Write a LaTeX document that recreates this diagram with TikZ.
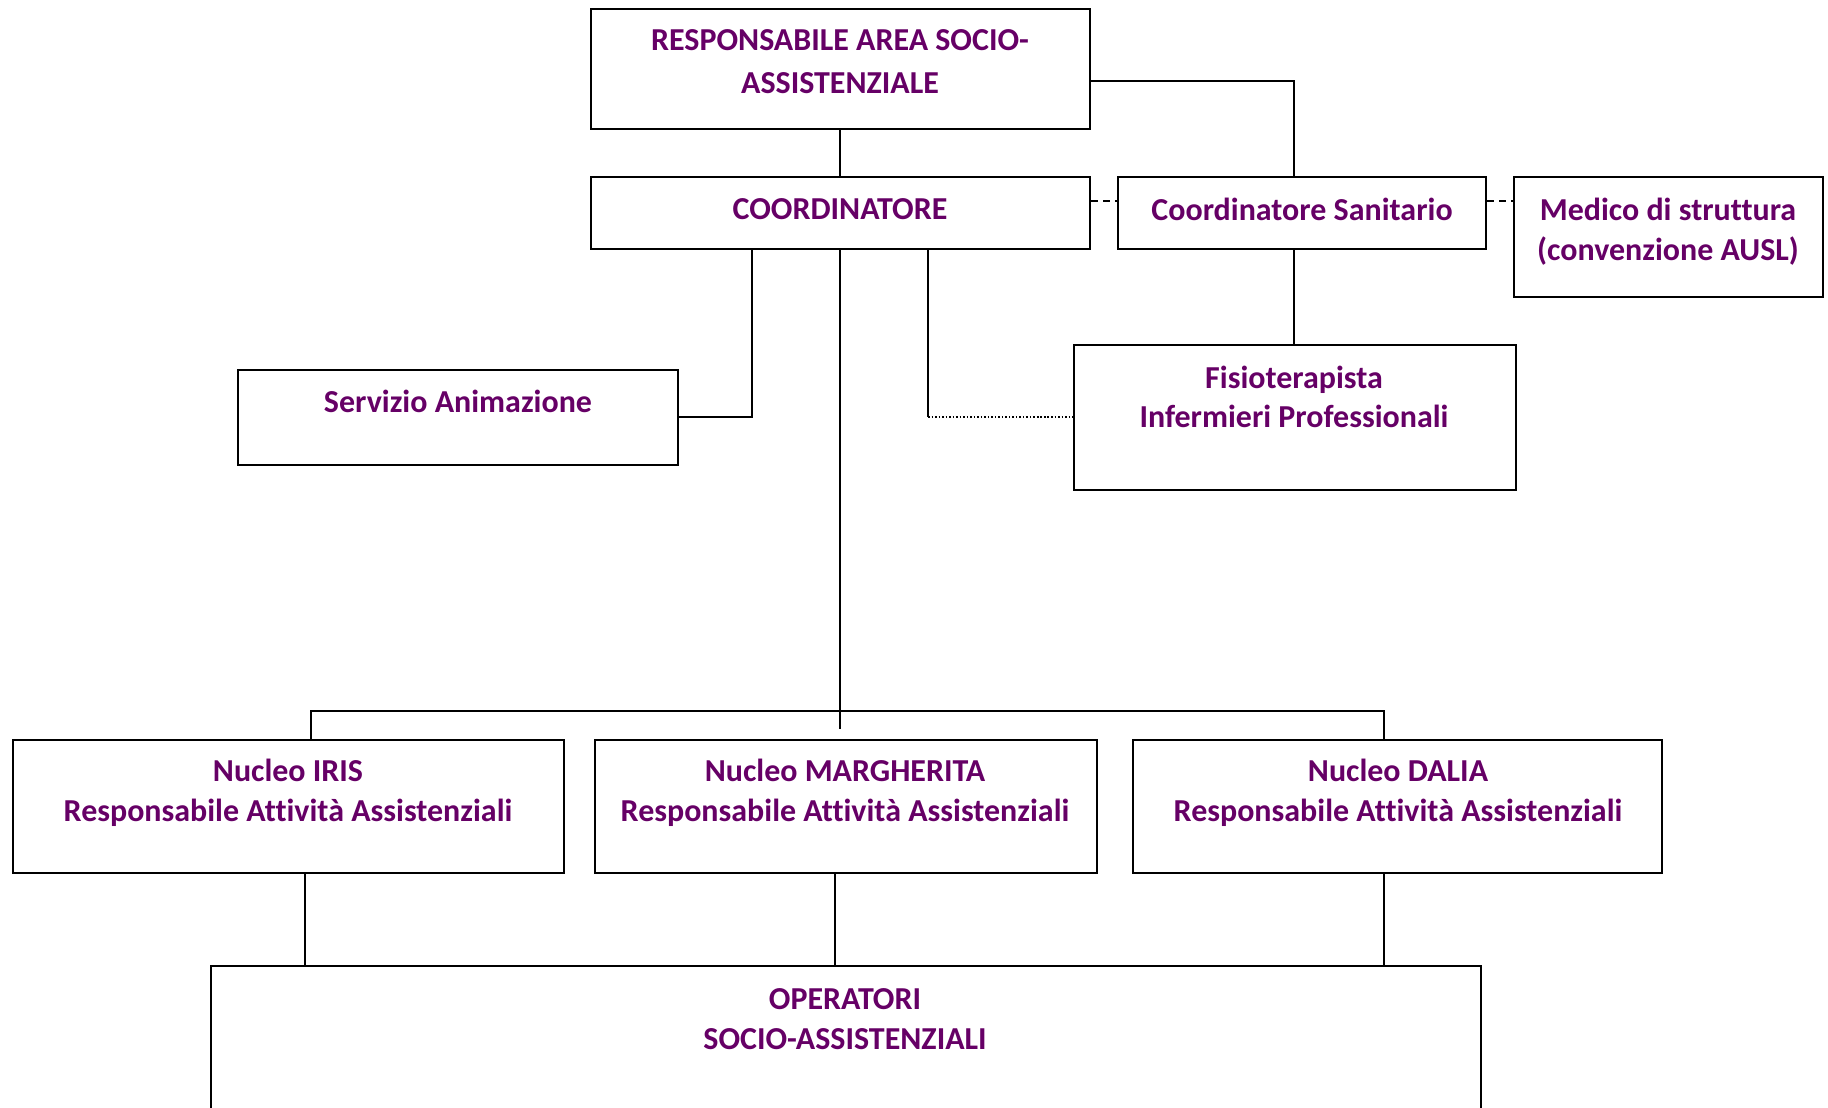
\documentclass[tikz,border=0pt]{standalone}
\usepackage{fontspec}
\setmainfont[Ligatures=NoCommon]{Carlito}
\usetikzlibrary{fit}
\definecolor{orgpurple}{RGB}{102,0,102}
\begin{document}
\begin{tikzpicture}[x=0.02cm,y=-0.02cm,
  box/.style={draw=black, line width=1.3pt, inner sep=0pt, rectangle},
  txt/.style={text=orgpurple, font=\fontsize{18.2}{22.6}\selectfont\bfseries, align=center, inner sep=0pt},
  txtwide/.style={txt, font=\fontsize{18.2}{24.5}\selectfont\bfseries},
  conn/.style={draw=black, line width=1pt},
  dashconn/.style={conn, dash pattern=on 0.14cm off 0.1cm},
  dotconn/.style={conn, line width=0.9pt, dash pattern=on 0.9pt off 1.1pt}]
\useasboundingbox (0,0) rectangle (1828,1107);
% boxes
\node[box, fit={(591,9) (1090,129)}] (top) {};
\node[box, fit={(591,177) (1090,249)}] (coord) {};
\node[box, fit={(1118,177) (1486,249)}] (cs) {};
\node[box, fit={(1514,177) (1823,297)}] (med) {};
\node[box, fit={(238,370) (678,465)}] (serv) {};
\node[box, fit={(1074,345) (1516,490)}] (fis) {};
\node[box, fit={(13,740) (564,873)}] (iris) {};
\node[box, fit={(595,740) (1097,873)}] (marg) {};
\node[box, fit={(1133,740) (1662,873)}] (dalia) {};
\node[box, fit={(211,966) (1481,1125)}] (op) {};
% texts
\node[txtwide] (ttop) at (840,62) {RESPONSABILE AREA SOCIO-\\ASSISTENZIALE};
\node[txt] (tcoord) at (840,209) {COORDINATORE};
\node[txt] (tcs) at (1302,209) {Coordinatore Sanitario};
\node[txt] (tmed) at (1668,232) {Medico di struttura\\(convenzione AUSL)};
\node[txt] (tserv) at (458,401) {Servizio Animazione};
\node[txt] (tfis) at (1294,397) {Fisioterapista\\Infermieri Professionali};
\node[txt] (tiris) at (288,793) {Nucleo IRIS\\Responsabile Attività Assistenziali};
\node[txt] (tmarg) at (845,793) {Nucleo MARGHERITA\\Responsabile Attività Assistenziali};
\node[txt] (tdalia) at (1398,793) {Nucleo DALIA\\Responsabile Attività Assistenziali};
\node[txt] (tops) at (845,1019) {OPERATORI\\SOCIO-ASSISTENZIALI};
% helper coordinates
\coordinate (j1) at (1294,81);
\coordinate (dy) at (0,201);
\coordinate (sa) at (752,417);
\coordinate (fi) at (928,417);
\coordinate (busend) at (840,729);
\coordinate (bl) at (311,711);
\coordinate (br) at (1384,711);
\coordinate (b1) at (305,0);
\coordinate (b2) at (835,0);
\coordinate (b3) at (1384,0);
% connectors
\draw[conn] (coord.north -| busend) -- (top.south -| busend);
\draw[conn] (top.east |- j1) -- (j1) -- (j1 |- cs.north);
\draw[dashconn] (coord.east |- dy) -- (cs.west |- dy);
\draw[dashconn] (cs.east |- dy) -- (med.west |- dy);
\draw[conn] (j1 |- cs.south) -- (j1 |- fis.north);
\draw[conn] (sa |- coord.south) -- (sa) -- (serv.east |- sa);
\draw[conn] (fi |- coord.south) -- (fi);
\draw[dotconn] (fi) -- (fis.west |- fi);
\draw[conn] (coord.south -| busend) -- (busend);
\draw[conn] (bl |- iris.north) -- (bl) -- (br) -- (br |- dalia.north);
\draw[conn] (b1 |- iris.south) -- (b1 |- op.north);
\draw[conn] (b2 |- marg.south) -- (b2 |- op.north);
\draw[conn] (b3 |- dalia.south) -- (b3 |- op.north);
\end{tikzpicture}
\end{document}
